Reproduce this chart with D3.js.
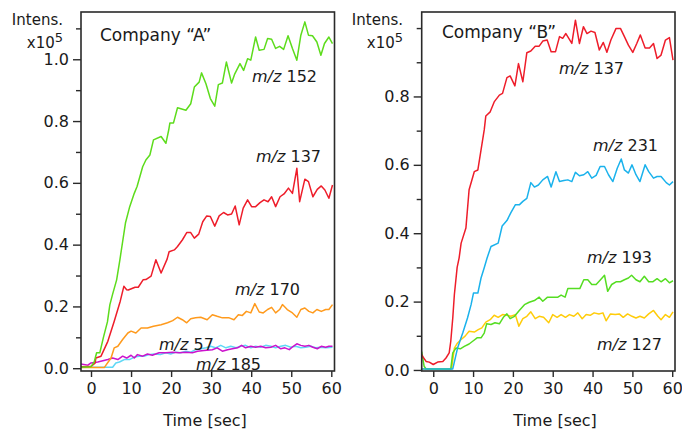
<!DOCTYPE html>
<html>
<head>
<meta charset="utf-8">
<script src="https://cdn.jsdelivr.net/npm/d3@7"></script>
<style>
  html, body { margin: 0; padding: 0; background: #fff; }
  svg { display: block; }
  text { font-family: "DejaVu Sans", Verdana, sans-serif; fill: #1a1a1a; }
</style>
</head>
<body>
<svg id="chart" width="682" height="429"></svg>
<script>
// ---------------- DATA ----------------
// [time (sec), intensity (x10^5)]
const xTicks = [0, 10, 20, 30, 40, 50, 60];
const yTicksA = [0.0, 0.2, 0.4, 0.6, 0.8, 1.0];
const yMinorA = [0.1, 0.3, 0.5, 0.7, 0.9, 1.1];
const yTicksB = [0.0, 0.2, 0.4, 0.6, 0.8];
const yMinorB = [0.1, 0.3, 0.5, 0.7, 0.9, 1.0];

const titleA = "Company \u201CA\u201D";
const titleB = "Company \u201CB\u201D";

const A_mz152 = [[-2.5,0.003],[0,0.005],[0.8,0.02],[1.4,0.05],[2.2,0.05],[3.1,0.10],[4.1,0.15],[4.7,0.205],[5.4,0.24],[6.4,0.286],[7.2,0.35],[8.6,0.47],[9.6,0.52],[10.8,0.566],[11.5,0.588],[12.9,0.652],[13.7,0.674],[14.7,0.69],[15.6,0.739],[17.5,0.75],[18.7,0.728],[19.4,0.771],[19.7,0.794],[20.6,0.794],[21.6,0.843],[23.7,0.835],[24.9,0.856],[25.8,0.91],[27,0.926],[27.6,0.956],[28.7,0.921],[29.8,0.873],[30.9,0.848],[31.8,0.918],[32.8,0.923],[33.8,0.991],[35.1,0.923],[35.9,0.953],[37.2,0.986],[38.1,0.964],[39.1,1.002],[39.9,0.997],[41.1,1.072],[42,1.029],[43.2,1.032],[44.1,1.067],[45.1,1.065],[46.1,1.035],[47.1,1.042],[48.1,1.032],[49.2,1.076],[50.3,1.035],[51.4,0.997],[52.4,1.078],[53.4,1.121],[54.3,1.078],[55.3,1.076],[56.4,1.056],[57.4,1.013],[58.3,1.051],[59.4,1.072],[60.3,1.051]];

const A_mz137 = [[-2.5,0.005],[0,0.006],[1,0.016],[1.2,0.033],[2.5,0.039],[4.2,0.087],[5.8,0.152],[7.3,0.217],[8.2,0.265],[8.9,0.254],[9.3,0.253],[11,0.262],[11.8,0.262],[13,0.286],[13.7,0.287],[15,0.298],[16.2,0.351],[17.5,0.308],[19,0.353],[19.5,0.377],[20.8,0.383],[21.6,0.394],[22.8,0.415],[23.9,0.439],[24.9,0.439],[25.8,0.421],[26.9,0.434],[27.9,0.474],[28.9,0.493],[29.8,0.491],[30.9,0.46],[32,0.493],[33.1,0.504],[34.1,0.496],[35.1,0.499],[36,0.525],[37,0.464],[38,0.518],[39.1,0.545],[40.1,0.523],[41.1,0.523],[42.2,0.536],[43.2,0.545],[44.2,0.539],[45.1,0.555],[46.1,0.523],[47.2,0.555],[48.2,0.564],[49.3,0.583],[50.3,0.566],[51.4,0.647],[52.1,0.539],[53.4,0.612],[54.3,0.604],[55.4,0.555],[56.5,0.579],[57.5,0.59],[58.4,0.577],[59.4,0.55],[60.3,0.593]];

const A_mz170 = [[-2.5,0.002],[3.3,0.002],[5,0.033],[5.8,0.066],[6.7,0.071],[7.9,0.093],[9.2,0.114],[10,0.12],[11.2,0.114],[12.5,0.13],[14.1,0.13],[15.6,0.136],[17.5,0.141],[19.1,0.147],[20.4,0.154],[21.6,0.165],[22.8,0.157],[23.9,0.147],[24.9,0.16],[26.1,0.163],[27.4,0.165],[29,0.157],[30.3,0.173],[31.5,0.168],[32.8,0.163],[34.5,0.163],[35.7,0.157],[36.8,0.173],[37.8,0.171],[38.8,0.184],[39.9,0.179],[40.9,0.209],[42,0.182],[43,0.179],[44.1,0.19],[45.1,0.197],[46.1,0.179],[47.1,0.19],[47.8,0.206],[49,0.19],[50.3,0.179],[51.4,0.165],[52.4,0.19],[53.4,0.195],[54.4,0.184],[55.4,0.179],[56.4,0.19],[57.5,0.184],[58.6,0.19],[59.4,0.19],[60.3,0.206]];

const A_mz57 = [[-2.5,0.014],[-0.8,0.01],[0,0.017],[1.7,0.02],[4.2,0.028],[5.4,0.033],[6.7,0.028],[7.9,0.039],[8.9,0.033],[10,0.042],[10.8,0.033],[11.6,0.044],[12.9,0.039],[14.1,0.046],[15.3,0.042],[17,0.05],[18.7,0.05],[20.4,0.052],[22,0.05],[23.7,0.052],[25.3,0.05],[26.6,0.055],[28.2,0.057],[30.3,0.06],[31.5,0.066],[32.8,0.055],[34.1,0.06],[35.3,0.063],[36.6,0.066],[37.6,0.074],[38.6,0.066],[39.9,0.071],[41.1,0.068],[42.4,0.071],[43.6,0.066],[44.9,0.068],[46.1,0.074],[47.4,0.063],[48.4,0.066],[49.5,0.06],[50.5,0.071],[51.4,0.079],[52.4,0.074],[53.4,0.071],[54.4,0.074],[55.4,0.068],[56.5,0.063],[57.5,0.071],[58.6,0.068],[59.4,0.071],[60.3,0.071]];

const A_mz185 = [[-2.5,0.003],[5.4,0.003],[6.2,0.017],[7.1,0.02],[8.3,0.028],[9.6,0.028],[10.8,0.036],[12,0.039],[13.2,0.039],[14.5,0.044],[15.7,0.046],[17.3,0.044],[18.7,0.05],[19.9,0.046],[21.2,0.052],[22.4,0.05],[23.7,0.055],[24.9,0.052],[26.1,0.06],[27.4,0.063],[28.7,0.066],[29.9,0.071],[31.1,0.066],[32.4,0.074],[33.7,0.066],[34.9,0.071],[36.2,0.066],[37.4,0.071],[38.6,0.074],[39.9,0.066],[41.1,0.071],[42.4,0.068],[43.6,0.074],[44.9,0.071],[46.1,0.066],[47.4,0.071],[48.6,0.074],[49.9,0.068],[51.1,0.071],[52.4,0.066],[53.6,0.068],[54.9,0.071],[56.1,0.066],[57.4,0.068],[58.6,0.066],[60.3,0.068]];

const B_mz137 = [[-2.9,0.045],[-2.7,0.04],[-1.8,0.025],[-1,0.023],[0,0.016],[1.1,0.023],[2.4,0.025],[3.2,0.035],[4,0.05],[4.4,0.084],[4.9,0.152],[5.3,0.22],[6,0.3],[6.5,0.328],[7,0.371],[8.2,0.415],[9,0.527],[10.3,0.58],[11.2,0.585],[12,0.644],[12.8,0.702],[13.2,0.743],[14.3,0.755],[15.3,0.784],[16.6,0.804],[17.4,0.809],[18.5,0.855],[19.3,0.86],[20.5,0.831],[21.4,0.896],[22.5,0.843],[23.5,0.928],[24.5,0.933],[25.6,0.947],[26.6,0.947],[27.5,0.962],[28.6,0.965],[29.6,0.931],[30.7,0.931],[31.7,0.975],[32.5,0.97],[33.3,0.984],[34.8,0.955],[35.7,1.023],[36.7,0.955],[37.7,1.004],[38.6,0.984],[39.6,0.991],[40.6,0.987],[41.7,0.936],[42.7,0.958],[43.6,0.929],[44.6,0.965],[45.9,0.999],[47,0.999],[48,0.975],[49,0.95],[50.1,0.929],[51.1,0.955],[52,0.98],[53.2,0.942],[54.3,0.942],[55.3,0.955],[56.2,0.911],[57.2,0.921],[58.3,0.965],[59.3,0.972],[60.2,0.906]];

const B_mz231 = [[-2.9,0.003],[4.9,0.003],[6.1,0.064],[7.4,0.108],[8.6,0.152],[9.5,0.191],[10.1,0.225],[11.2,0.225],[12,0.269],[12.8,0.299],[13.5,0.327],[14.5,0.361],[16.3,0.371],[17.3,0.421],[18.5,0.437],[19.5,0.46],[20.6,0.483],[21.6,0.483],[22.5,0.493],[23.5,0.502],[24.5,0.548],[25.4,0.535],[26.4,0.541],[27.5,0.556],[28.7,0.566],[29.6,0.535],[30.8,0.58],[31.7,0.551],[32.8,0.554],[33.8,0.556],[34.8,0.551],[35.7,0.578],[36.7,0.568],[37.8,0.571],[38.8,0.58],[39.8,0.561],[40.9,0.569],[41.9,0.595],[43,0.595],[44,0.571],[45.1,0.551],[46.2,0.59],[47.2,0.617],[48,0.585],[49,0.576],[49.9,0.6],[50.9,0.571],[51.9,0.551],[53.2,0.6],[54.1,0.58],[55.3,0.561],[56.2,0.566],[57.2,0.566],[58.5,0.548],[59.3,0.541],[60.2,0.551]];

const B_mz193 = [[-2.9,0.054],[-2.3,0.011],[-1.8,0.003],[4.4,0.003],[4.9,0.05],[5.7,0.064],[6.8,0.062],[7.8,0.069],[9,0.076],[9.9,0.084],[11,0.094],[12,0.094],[12.8,0.108],[13.4,0.135],[14.5,0.133],[15.5,0.138],[16.6,0.135],[17.6,0.154],[18.5,0.164],[19.3,0.15],[20.4,0.157],[21.6,0.174],[22.9,0.191],[24.1,0.198],[25.4,0.203],[26.6,0.213],[27.5,0.201],[28.7,0.213],[30,0.213],[31.3,0.213],[32.1,0.219],[33.1,0.213],[33.8,0.238],[34.8,0.238],[35.8,0.238],[36.8,0.238],[37.8,0.264],[38.8,0.264],[39.8,0.25],[40.9,0.25],[42,0.264],[43,0.277],[43.8,0.23],[44.8,0.25],[45.9,0.258],[47,0.258],[48,0.264],[49,0.269],[49.8,0.277],[50.9,0.264],[51.9,0.258],[53,0.274],[54.1,0.258],[55.1,0.258],[56.2,0.267],[57.2,0.258],[58.3,0.267],[59.3,0.255],[60.2,0.261]];

const B_mz127 = [[-2.9,0.003],[4.6,0.003],[5.3,0.064],[6.1,0.079],[7,0.089],[8,0.099],[9,0.113],[10.3,0.111],[11.3,0.118],[12.2,0.123],[13.2,0.14],[14.3,0.147],[15.3,0.16],[16.3,0.154],[17.4,0.162],[18.5,0.16],[19.5,0.157],[20.6,0.162],[21.5,0.128],[22.5,0.15],[23.5,0.157],[24.5,0.17],[25.6,0.15],[26.6,0.157],[27.7,0.154],[29,0.138],[30,0.162],[31.1,0.154],[32.1,0.162],[33.2,0.154],[34.2,0.162],[35.3,0.157],[36.3,0.167],[37.4,0.15],[38.4,0.162],[39.4,0.16],[40.4,0.167],[41.6,0.164],[42.6,0.167],[43.4,0.144],[44.5,0.164],[45.7,0.162],[46.7,0.164],[47.7,0.154],[48.8,0.164],[49.9,0.157],[50.9,0.152],[51.9,0.157],[53,0.152],[54.1,0.164],[55.3,0.174],[56.4,0.157],[57.2,0.147],[58.3,0.162],[59.3,0.154],[60.2,0.17]];

// ---------------- DRAWING ----------------
const svg = d3.select("#chart");

const panels = [
  {
    id: "A", title: titleA, titleX: 100, titleY: 41,
    frame: {x0: 81, x1: 334.5, y0: 12, y1: 371},
    xDomain: [-2.5, 60.8], yDomain: [-0.009, 1.153],
    yTicks: yTicksA, yMinor: yMinorA,
    unitX: 63, timeX: 205,
    series: [
      {data: A_mz185, color: "#5fd8f5", label: "185", lx: 196, ly: 369.7},
      {data: A_mz57,  color: "#cc12cc", label: "57",  lx: 159, ly: 349.7},
      {data: A_mz170, color: "#ff9a1c", label: "170", lx: 235, ly: 295.3},
      {data: A_mz137, color: "#ee1d2a", label: "137", lx: 256, ly: 162.3},
      {data: A_mz152, color: "#5ddc1c", label: "152", lx: 252, ly: 82}
    ]
  },
  {
    id: "B", title: titleB, titleX: 442, titleY: 38,
    frame: {x0: 421.7, x1: 675, y0: 12, y1: 371},
    xDomain: [-2.9, 60.7], yDomain: [-0.003, 1.047],
    yTicks: yTicksB, yMinor: yMinorB,
    unitX: 403, timeX: 555,
    series: [
      {data: B_mz127, color: "#ffcc0a", label: "127", lx: 597, ly: 349.7},
      {data: B_mz193, color: "#55dd22", label: "193", lx: 587, ly: 262.7},
      {data: B_mz231, color: "#1ab2ec", label: "231", lx: 593, ly: 150.7},
      {data: B_mz137, color: "#ee1d2a", label: "137", lx: 559, ly: 73.7}
    ]
  }
];

panels.forEach(p => {
  const f = p.frame;
  const x = d3.scaleLinear().domain(p.xDomain).range([f.x0, f.x1]);
  const y = d3.scaleLinear().domain(p.yDomain).range([f.y1, f.y0]);
  const g = svg.append("g");

  const clipId = "clip" + p.id;
  svg.append("defs").append("clipPath").attr("id", clipId)
    .append("rect").attr("x", f.x0).attr("y", f.y0)
    .attr("width", f.x1 - f.x0).attr("height", f.y1 - f.y0);

  // lines
  const line = d3.line().x(d => x(d[0])).y(d => y(d[1]));
  const lg = g.append("g").attr("clip-path", `url(#${clipId})`);
  p.series.forEach(s => {
    lg.append("path").datum(s.data)
      .attr("d", line)
      .attr("fill", "none")
      .attr("stroke", s.color)
      .attr("stroke-width", 1.5)
      .attr("stroke-linejoin", "round");
  });

  // frame
  g.append("rect")
    .attr("x", f.x0).attr("y", f.y0)
    .attr("width", f.x1 - f.x0).attr("height", f.y1 - f.y0)
    .attr("fill", "none").attr("stroke", "#2a2a2a").attr("stroke-width", 1.6);

  // y axis (major)
  const yAxis = d3.axisLeft(y).tickValues(p.yTicks).tickSize(8).tickPadding(4)
    .tickFormat(d3.format(".1f"));
  const ya = g.append("g").attr("transform", `translate(${f.x0},0)`).call(yAxis);
  ya.select(".domain").remove();
  ya.selectAll(".tick line").attr("stroke", "#2a2a2a").attr("stroke-width", 1.4);
  ya.selectAll(".tick text").attr("font-size", 16).attr("fill", "#1a1a1a")
    .attr("font-family", "DejaVu Sans");

  // y axis (minor)
  const yAxisMinor = d3.axisLeft(y).tickValues(p.yMinor).tickSize(5).tickFormat("");
  const ym = g.append("g").attr("transform", `translate(${f.x0},0)`).call(yAxisMinor);
  ym.select(".domain").remove();
  ym.selectAll(".tick line").attr("stroke", "#2a2a2a").attr("stroke-width", 1.4);

  // x axis
  const xAxis = d3.axisBottom(x).tickValues(xTicks).tickSize(6).tickPadding(6)
    .tickFormat(d3.format("d"));
  const xa = g.append("g").attr("transform", `translate(0,${f.y1})`).call(xAxis);
  xa.select(".domain").remove();
  xa.selectAll(".tick line").attr("stroke", "#2a2a2a").attr("stroke-width", 1.4);
  xa.selectAll(".tick text").attr("font-size", 16).attr("fill", "#1a1a1a")
    .attr("font-family", "DejaVu Sans");

  // axis titles
  g.append("text").attr("x", p.unitX).attr("y", 25).attr("text-anchor", "end")
    .attr("font-size", 15).text("Intens.");
  const u = g.append("text").attr("x", p.unitX).attr("y", 48).attr("text-anchor", "end")
    .attr("font-size", 15);
  u.append("tspan").text("x10");
  u.append("tspan").attr("dy", -6).attr("font-size", 13).text("5");

  g.append("text").attr("x", p.timeX).attr("y", 426).attr("text-anchor", "middle")
    .attr("font-size", 16).text("Time [sec]");

  // panel title
  g.append("text").attr("x", p.titleX).attr("y", p.titleY)
    .attr("font-size", 17).text(p.title);

  // series labels
  p.series.forEach(s => {
    const t = g.append("text").attr("x", s.lx).attr("y", s.ly).attr("font-size", 16);
    t.append("tspan").attr("font-style", "italic").text("m/z");
    t.append("tspan").text(" " + s.label);
  });
});
</script>
</body>
</html>
